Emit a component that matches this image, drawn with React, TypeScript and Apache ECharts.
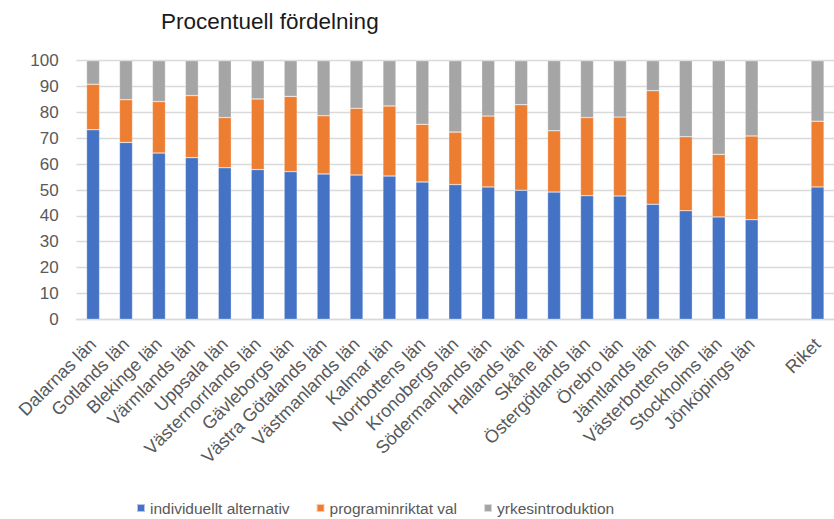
import React, { useEffect, useRef } from "react";
import * as echarts from "echarts";

const categories = [
  "Dalarnas län", "Gotlands län", "Blekinge län", "Värmlands län", "Uppsala län",
  "Västernorrlands län", "Gävleborgs län", "Västra Götalands län", "Västmanlands län",
  "Kalmar län", "Norrbottens län", "Kronobergs län", "Södermanlands län", "Hallands län",
  "Skåne län", "Östergötlands län", "Örebro län", "Jämtlands län", "Västerbottens län",
  "Stockholms län", "Jönköpings län", "", "Riket",
];

const individuellt = [73.3, 68.4, 64.3, 62.5, 58.6, 57.9, 57.1, 56.2, 55.8, 55.4, 53.1, 52.1, 51.2, 49.9, 49.2, 47.8, 47.7, 44.5, 42.0, 39.6, 38.5, null, 51.2];
const programinriktat = [17.6, 16.5, 19.9, 24.0, 19.4, 27.3, 29.1, 22.5, 25.8, 27.1, 22.3, 20.3, 27.4, 33.1, 23.7, 30.2, 30.5, 43.9, 28.6, 24.2, 32.4, null, 25.4];
const yrkesintroduktion = [9.1, 15.1, 15.8, 13.5, 22.0, 14.8, 13.8, 21.3, 18.4, 17.5, 24.6, 27.6, 21.4, 17.0, 27.1, 22.0, 21.8, 11.6, 29.4, 36.2, 29.1, null, 23.4];

const seriesNames = ["individuellt alternativ", "programinriktat val", "yrkesintroduktion"];
const yTicks = { min: 0, max: 100, interval: 10 };

export default function App() {
  const ref = useRef<HTMLDivElement>(null);
  useEffect(() => {
    if (!ref.current) return;
    const chart = echarts.init(ref.current, null, { renderer: "svg" });
    const font = "'Liberation Sans', Arial, sans-serif";
    const mk = (name: string, data: (number | null)[], color: string) => ({
      name,
      type: "bar",
      stack: "total",
      data,
      barWidth: 13,
      itemStyle: { color, borderColor: "rgba(255,255,255,0.6)", borderWidth: 0.5 },
    });
    chart.setOption({
      animation: false,
      title: {
        text: "Procentuell fördelning",
        left: 156,
        top: 5,
        textStyle: { fontFamily: font, fontSize: 22.5, fontWeight: "normal", color: "#1a1a1a" },
      },
      legend: {
        data: seriesNames,
        left: 131,
        top: 495,
        itemWidth: 8,
        itemHeight: 8,
        itemGap: 26,
        icon: "rect",
        textStyle: { fontFamily: font, fontSize: 15.5, color: "#595959" },
      },
      grid: { left: 76.6, top: 60.7, width: 763.6, height: 258.6, containLabel: false },
      xAxis: {
        type: "category",
        data: categories,
        axisLine: { lineStyle: { color: "#d9d9d9", width: 1.3 } },
        axisTick: { show: false },
        axisLabel: {
          interval: 0,
          rotate: 45,
          margin: 22,
          fontFamily: font,
          fontSize: 18,
          color: "#595959",
        },
      },
      yAxis: {
        type: "value",
        min: yTicks.min,
        max: yTicks.max,
        interval: yTicks.interval,
        axisLine: { show: false },
        axisTick: { show: false },
        splitLine: { lineStyle: { color: "#d9d9d9", width: 1.3 } },
        axisLabel: { margin: 18, fontFamily: font, fontSize: 17, color: "#595959" },
      },
      series: [
        mk(seriesNames[0], individuellt, "#4472C4"),
        mk(seriesNames[1], programinriktat, "#ED7D31"),
        mk(seriesNames[2], yrkesintroduktion, "#A5A5A5"),
      ],
    });
    return () => chart.dispose();
  }, []);
  return (
    <div
      ref={ref}
      style={{ position: "fixed", left: 0, top: 0, width: 834, height: 519, background: "#fff" }}
    />
  );
}
